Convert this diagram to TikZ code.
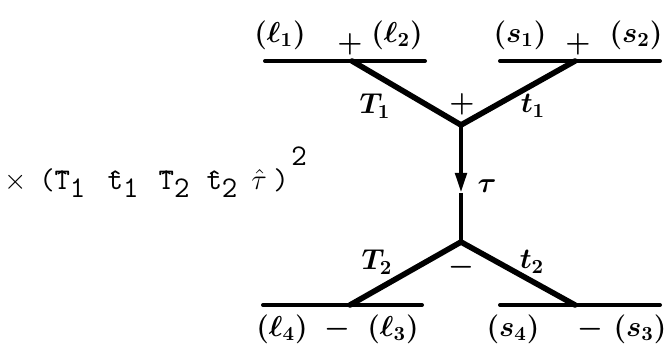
\documentclass[tikz,border=0pt]{standalone}
\usepackage{amsmath,amssymb}
\usepackage{bm}
\usetikzlibrary{arrows.meta,calc,positioning}

\newcommand{\ttsub}[1]{\raisebox{-0.55ex}{\texttt{#1}}}

\begin{document}
\begin{tikzpicture}[x={(0.5pt,0)},y={(0,-0.5pt)},
    rail/.style={line width=2pt,line cap=round},
    leg/.style={line width=2.8pt,line cap=round},
    hand/.style={font=\fontsize{14}{16}\selectfont\boldmath},
    typ/.style={font=\fontsize{15}{18}\selectfont,anchor=base,inner sep=0pt}]
  \useasboundingbox (0,0) rectangle (665,352);
  % vertices and ends
  \coordinate (vup) at (461,125);
  \coordinate (vdn) at (461,242);
  \coordinate (tip) at (461,193);
  \coordinate (ul) at (352,61);
  \coordinate (ur) at (575,61);
  \coordinate (dl) at (350,305);
  \coordinate (dr) at (575,305);
  \draw[rail] (265,61) -- (425,61);
  \draw[rail] (500,61) -- (660,61);
  \draw[rail] (263,305) -- (422,305);
  \draw[rail] (500,305) -- (660,305);
  \draw[leg] (ul) -- (vup);
  \draw[leg] (ur) -- (vup);
  \draw[leg] (dl) -- (vdn);
  \draw[leg] (dr) -- (vdn);
  \draw[line width=2.2pt,-{Triangle[length=10pt,width=5.5pt]}] (vup) -- (tip);
  \draw[line width=2.2pt] (tip) -- (vdn);
  % labels, top
  \node[hand] (l1) at (280,35) {$(\ell_1)$};
  \node[hand] (pa) at (350,44) {$+$};
  \node[hand] (l2) at (397,35) {$(\ell_2)$};
  \node[hand] (s1) at (520,35) {$(s_1)$};
  \node[hand] (pb) at (578,44) {$+$};
  \node[hand] (s2) at (636,35) {$(s_2)$};
  \node[hand] (T1) at (375,106) {$T_1$};
  \node[hand] (pc) at (462,104) {$+$};
  \node[hand] (t1) at (533,106) {$t_1$};
  \node[hand] (tau) at (487,186) {$\tau$};
  % labels, bottom
  \node[hand] (T2) at (377,262) {$T_2$};
  \node[hand] (ma) at (461,267) {$-$};
  \node[hand] (t2) at (532,262) {$t_2$};
  \node[hand] (l4) at (282,329) {$(\ell_4)$};
  \node[hand] (mb) at (337,329) {$-$};
  \node[hand] (l3) at (393,329) {$(\ell_3)$};
  \node[hand] (s4) at (513,329) {$(s_4)$};
  \node[hand] (mc) at (590,329) {$-$};
  \node[hand] (s3) at (640,329) {$(s_3)$};
  % factor on the left
  \node[typ] (times) at (16,190) {$\times$};
  \node[typ] (lpar) at (47,190) {\texttt{(}};
  \node[typ] (hT1) at (70,190) {\texttt{\^{T}}\ttsub{1}};
  \node[typ] (ht1) at (123,190) {\texttt{\^{t}}\ttsub{1}};
  \node[typ] (hT2) at (174,190) {\texttt{\^{T}}\ttsub{2}};
  \node[typ] (ht2) at (222,190) {\texttt{\^{t}}\ttsub{2}};
  \node[typ] (htau) at (259,190) {$\hat{\tau}$};
  \node[typ] (rpar) at (281,190) {\texttt{)}};
  \node[typ] (sq) at (299,166) {\texttt{2}};
\end{tikzpicture}
\end{document}
